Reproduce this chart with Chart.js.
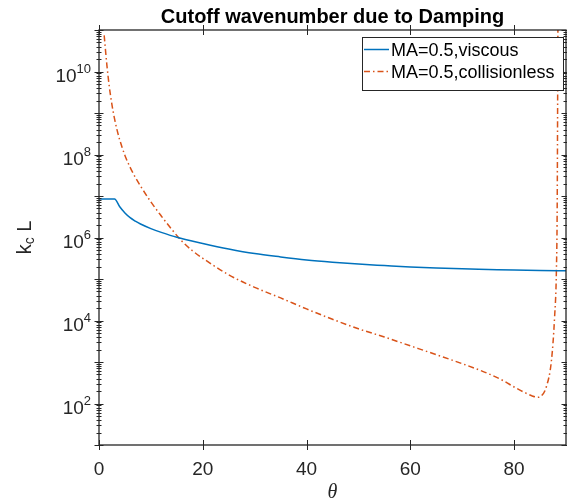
<!DOCTYPE html>
<html>
<head>
<meta charset="utf-8">
<script src="https://cdn.jsdelivr.net/npm/chart.js@4.4.1/dist/chart.umd.min.js"></script>
<style>
  html, body { margin: 0; padding: 0; background: #fff; }
  canvas { display: block; }
</style>
</head>
<body>
<canvas id="myChart" width="567" height="502"></canvas>
<script>
// data
var thetaViscous = [0, 1, 2, 3, 4, 5, 6, 7, 8, 10, 12, 15, 20, 25, 30, 35, 40, 45, 50, 55, 60, 65, 70, 75, 80, 85, 90];
var kcViscous = [8.5e6, 8.5e6, 8.5e6, 8.5e6, 5.5e6, 3.9e6, 3.0e6, 2.48e6, 2.11e6, 1.64e6, 1.33e6, 1.01e6, 7.2e5, 5.3e5, 4.1e5, 3.4e5, 2.88e5, 2.54e5, 2.29e5, 2.11e5, 1.95e5, 1.84e5, 1.76e5, 1.70e5, 1.64e5, 1.60e5, 1.585e5];

var thetaCollisionless = [1, 1.5, 2, 2.5, 3, 3.5, 4, 5, 6, 7, 8, 10, 12, 14, 16, 18, 20, 25, 30, 35, 40, 45, 50, 55, 60, 65, 70, 75, 78, 80, 82, 83.6, 84.5, 85.2, 86.2, 87.2, 87.8, 88.15, 88.3, 88.45];
var kcCollisionless = [7.4e10, 1.51e10, 4.17e9, 1.58e9, 7.2e8, 3.8e8, 2.24e8, 9.5e7, 4.9e7, 2.82e7, 1.74e7, 7.2e6, 3.3e6, 1.58e6, 8.1e5, 4.8e5, 3.16e5, 1.26e5, 6.3e4, 3.5e4, 1.9e4, 1.07e4, 6.3e3, 4.0e3, 2.45e3, 1.5e3, 910, 525, 350, 250, 185, 150, 141, 151, 250, 1100, 1.2e4, 1.6e5, 5e6, 2e11];

var xTickValues = [0, 20, 40, 60, 80];
var yLabelExponents = [2, 4, 6, 8, 10];
var seriesNames = ["MA=0.5,viscous", "MA=0.5,collisionless"];

var blue = "#0072BD";
var orange = "#D95319";
var axisColor = "#262626";
var sans = '"Liberation Sans", Arial, Helvetica, sans-serif';

function toPoints(xs, ys) {
  return xs.map(function(x, i) { return { x: x, y: ys[i] }; });
}

// matlab style box, ticks, labels, title and legend
var matlabAxes = {
  id: "matlabAxes",
  afterDraw: function(chart) {
    var ctx = chart.ctx;
    var a = chart.chartArea;
    var xs = chart.scales.x, ys = chart.scales.y;
    ctx.save();
    ctx.strokeStyle = axisColor;
    ctx.fillStyle = axisColor;
    ctx.lineWidth = 1.3;
    ctx.strokeRect(a.left, a.top, a.right - a.left, a.bottom - a.top);

    ctx.lineWidth = 1;
    ctx.beginPath();
    xTickValues.forEach(function(t) {
      var px = Math.round(xs.getPixelForValue(t)) + 0.5;
      ctx.moveTo(px, a.bottom - 5); ctx.lineTo(px, a.bottom + 5);
      ctx.moveTo(px, a.top - 5); ctx.lineTo(px, a.top + 5);
    });
    for (var n = 1; n <= 11; n++) {
      for (var m = 1; m <= 9; m++) {
        var v = m * Math.pow(10, n);
        if (v > 1e11) break;
        var py = Math.round(ys.getPixelForValue(v)) + 0.5;
        var len = (m === 1) ? 4.5 : 2.5;
        ctx.moveTo(a.left - len, py); ctx.lineTo(a.left + len, py);
        ctx.moveTo(a.right - len, py); ctx.lineTo(a.right + len, py);
      }
    }
    ctx.stroke();

    // x tick labels
    ctx.font = "19px " + sans;
    ctx.textAlign = "center";
    ctx.textBaseline = "alphabetic";
    xTickValues.forEach(function(t) {
      ctx.fillText(String(t), xs.getPixelForValue(t), a.bottom + 30);
    });

    // y tick labels 10^n
    yLabelExponents.forEach(function(e) {
      var py = ys.getPixelForValue(Math.pow(10, e));
      ctx.font = "13px " + sans;
      var sup = String(e);
      var supW = ctx.measureText(sup).width;
      var right = a.left - 8;
      ctx.textAlign = "left";
      ctx.fillText(sup, right - supW, py + 1);
      ctx.font = "19px " + sans;
      ctx.textAlign = "right";
      ctx.fillText("10", right - supW, py + 10);
    });

    // title
    ctx.fillStyle = "#000";
    ctx.font = "bold 20px " + sans;
    ctx.textAlign = "center";
    ctx.fillText("Cutoff wavenumber due to Damping", (a.left + a.right) / 2, 23);

    // x label
    ctx.fillStyle = axisColor;
    ctx.font = 'italic 20px "Liberation Serif", "Times New Roman", serif';
    ctx.fillText("\u03b8", (a.left + a.right) / 2, 498);

    // y label k_c L
    ctx.save();
    ctx.translate(31, (a.top + a.bottom) / 2);
    ctx.rotate(-Math.PI / 2);
    ctx.textAlign = "left";
    ctx.font = "20px " + sans;
    var wk = ctx.measureText("k").width;
    var wL = ctx.measureText(" L").width;
    ctx.font = "14px " + sans;
    var wc = ctx.measureText("c").width;
    var x0 = -(wk + wc + wL) / 2;
    ctx.font = "20px " + sans;
    ctx.fillText("k", x0, 0);
    ctx.font = "14px " + sans;
    ctx.fillText("c", x0 + wk, 3);
    ctx.font = "20px " + sans;
    ctx.fillText(" L", x0 + wk + wc, 0);
    ctx.restore();

    // legend
    var lx = 362, ly = 37, lw = 201, lh = 53;
    ctx.fillStyle = "#fff";
    ctx.fillRect(lx, ly, lw, lh);
    ctx.strokeStyle = axisColor;
    ctx.lineWidth = 1;
    ctx.strokeRect(lx + 0.5, ly + 0.5, lw, lh);
    var rows = [
      { name: seriesNames[0], color: blue, dash: [], y: 49.5 },
      { name: seriesNames[1], color: orange, dash: [6, 3, 1.5, 3], y: 71.5 }
    ];
    ctx.font = "18px " + sans;
    ctx.textAlign = "left";
    rows.forEach(function(r) {
      ctx.strokeStyle = r.color;
      ctx.lineWidth = 1.5;
      ctx.setLineDash(r.dash);
      ctx.beginPath();
      ctx.moveTo(364, r.y); ctx.lineTo(389, r.y);
      ctx.stroke();
      ctx.setLineDash([]);
      ctx.fillStyle = "#000";
      ctx.fillText(r.name, 391, r.y + 6.5);
    });
    ctx.restore();
  }
};

var ctx = document.getElementById("myChart").getContext("2d");
var myChart = new Chart(ctx, {
  type: "line",
  data: {
    datasets: [{
      label: seriesNames[0],
      data: toPoints(thetaViscous, kcViscous),
      borderColor: blue,
      borderWidth: 1.5,
      pointRadius: 0,
      cubicInterpolationMode: "monotone",
      fill: false
    }, {
      label: seriesNames[1],
      data: toPoints(thetaCollisionless, kcCollisionless),
      borderColor: orange,
      borderWidth: 1.5,
      borderDash: [6, 3, 1.5, 3],
      pointRadius: 0,
      cubicInterpolationMode: "monotone",
      fill: false
    }]
  },
  options: {
    responsive: false,
    animation: false,
    layout: { padding: { top: 30, right: 1, bottom: 0, left: 0 } },
    plugins: { legend: { display: false }, title: { display: false }, tooltip: { enabled: false } },
    scales: {
      x: {
        type: "linear", min: 0, max: 90,
        grid: { display: false }, border: { display: false }, ticks: { display: false },
        afterFit: function(s) { s.height = 57; }
      },
      y: {
        type: "logarithmic", min: 10, max: 1e11,
        grid: { display: false }, border: { display: false }, ticks: { display: false },
        afterFit: function(s) { s.width = 99; }
      }
    }
  },
  plugins: [matlabAxes]
});
</script>
</body>
</html>
